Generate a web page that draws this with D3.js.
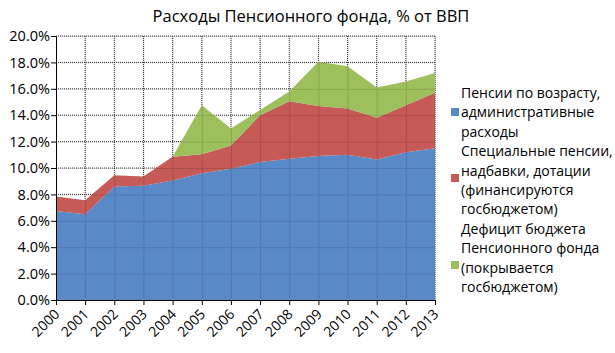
<!DOCTYPE html>
<html><head><meta charset="utf-8">
<script src="https://cdn.jsdelivr.net/npm/d3@7"></script>
<style>
html,body{margin:0;padding:0;background:#fff;}
svg{display:block;font-family:"Open Sans",sans-serif;}
</style></head>
<body><svg id="c" width="615" height="353"></svg>
<script>
const years = [2000,2001,2002,2003,2004,2005,2006,2007,2008,2009,2010,2011,2012,2013];
const oldAge   = [6.75,6.5,8.6,8.65,9.05,9.6,9.95,10.45,10.7,10.9,11.0,10.65,11.2,11.5];
const special  = [1.1,1.05,0.85,0.7,1.8,1.45,1.75,3.55,4.35,3.8,3.5,3.15,3.55,4.2];
const deficit  = [0,0,0,0,0,3.7,1.3,0.4,0.75,3.35,3.2,2.3,1.8,1.5];
const yTicks = [0,2,4,6,8,10,12,14,16,18,20];
const title = "Расходы Пенсионного фонда, % от ВВП";
const legendLines = [
  ["Пенсии по возрасту,","административные","расходы"],
  ["Специальные пенсии,","надбавки, дотации","(финансируются","госбюджетом)"],
  ["Дефицит бюджета","Пенсионного фонда","(покрывается","госбюджетом)"]
];
const colors = ["#5A89C7","#C55A57","#9DBF5C"];

const svg = d3.select("#c");
const L=56, R=435, T=36, B=300;
const x = d3.scaleLinear().domain([2000,2013]).range([L,R]);
const y = d3.scaleLinear().domain([0,20]).range([B,T]);

const table = years.map((yr,i)=>({year:yr, a:oldAge[i], b:special[i], c:deficit[i]}));
const stack = d3.stack().keys(["a","b","c"])(table);

// dotted grid behind
const grid = svg.append("g");
grid.selectAll("line.h").data(yTicks.filter(d=>d>0)).join("line")
  .attr("x1",L).attr("x2",R).attr("y1",d=>y(d)).attr("y2",d=>y(d))
  .attr("stroke","#333").attr("stroke-width",1).attr("stroke-dasharray","1,1");
grid.selectAll("line.v").data(years.slice(1)).join("line")
  .attr("y1",T).attr("y2",B).attr("x1",d=>x(d)).attr("x2",d=>x(d))
  .attr("stroke","#333").attr("stroke-width",1).attr("stroke-dasharray","1,1");

const area = d3.area().x(d=>x(d.data.year)).y0(d=>y(d[0])).y1(d=>y(d[1]));
svg.append("g").selectAll("path").data(stack).join("path")
  .attr("d",area).attr("fill",(d,i)=>colors[i]);

// faint grid through areas
const grid2 = svg.append("g").attr("opacity",0.12);
grid2.selectAll("line.h").data(yTicks.filter(d=>d>0)).join("line")
  .attr("x1",L).attr("x2",R).attr("y1",d=>y(d)+0.5).attr("y2",d=>y(d)+0.5)
  .attr("stroke","#000");
grid2.selectAll("line.v").data(years.slice(1)).join("line")
  .attr("y1",T).attr("y2",B).attr("x1",d=>x(d)+0.5).attr("x2",d=>x(d)+0.5)
  .attr("stroke","#000");

// axes
const yAxis = d3.axisLeft(y).tickValues(yTicks).tickFormat(d=>d.toFixed(1)+"%").tickSize(5).tickSizeOuter(0);
const gy = svg.append("g").attr("transform",`translate(${L},0)`).call(yAxis);
gy.selectAll("text").attr("font-size","14.5px").attr("fill","#000").attr("x",-6).attr("font-family","Open Sans");
gy.selectAll("line,path").attr("stroke","#000");

const xAxis = d3.axisBottom(x).tickValues(years).tickFormat(d3.format("d")).tickSize(5).tickSizeOuter(0);
const gx = svg.append("g").attr("transform",`translate(0,${B})`).call(xAxis);
gx.selectAll("line,path").attr("stroke","#000");
gx.selectAll("text").attr("font-size","14px").attr("fill","#000").attr("font-family","Open Sans")
  .attr("text-anchor","end").attr("dy",0).attr("y",0)
  .attr("transform","translate(4,15) rotate(-45)");

// title
svg.append("text").attr("x",311).attr("y",22).attr("text-anchor","middle")
  .attr("font-size","16.5px").attr("fill","#000").text(title);

// legend
const lineH = 19.4, base0 = 98;
const swY = [112,178,265];
let li = 0;
legendLines.forEach((lines,k)=>{
  const g = svg.append("g");
  g.append("rect").attr("x",451).attr("y",swY[k]-4).attr("width",8).attr("height",8).attr("fill",colors[k]);
  lines.forEach(t=>{
    g.append("text").attr("x",461).attr("y",base0+lineH*li).attr("font-size","14px").attr("fill","#000").text(t);
    li++;
  });
});
</script></body></html>
